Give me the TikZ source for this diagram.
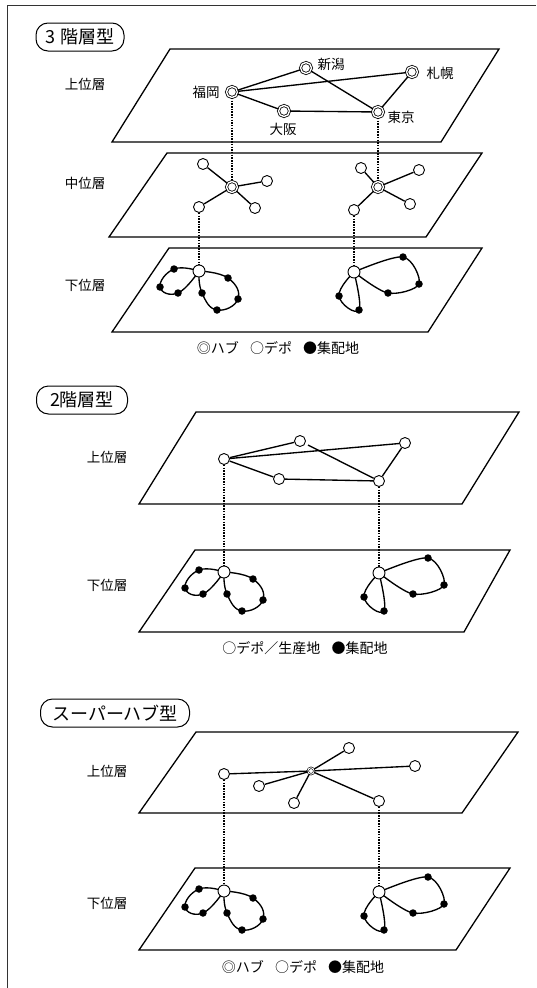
\documentclass[tikz,border=0pt]{standalone}
\usepackage{fontspec}
\setmainfont{Noto Sans CJK JP}
\pgfdeclarelayer{paper}
\pgfdeclarelayer{bg}
\pgfsetlayers{paper,bg,main}
\tikzset{
  plane/.style={line width=1.3pt, line join=miter},
  hub/.style={circle, draw, fill=white, line width=0.8pt, double, double distance=1.4pt, minimum size=11pt, inner sep=0pt},
  shub/.style={circle, draw, fill=white, line width=0.6pt, double, double distance=0.9pt, minimum size=6.5pt, inner sep=0pt},
  depot/.style={circle, draw, fill=white, line width=0.9pt, minimum size=11pt, inner sep=0pt},
  ddepot/.style={circle, draw, fill=white, line width=0.9pt, minimum size=12pt, inner sep=0pt},
  dot/.style={circle, fill=black, minimum size=7.5pt, inner sep=0pt},
  link/.style={line width=1.35pt},
  vlink/.style={line width=1.1pt, dash pattern=on 1.5pt off 1.2pt},
  lbl/.style={font=\fontsize{13.5}{15}\selectfont, inner sep=0pt},
  leg/.style={font=\fontsize{14}{16}\selectfont, inner sep=0pt},
  ttl/.style={draw, line width=1pt, rounded corners=12pt, font=\fontsize{18}{20}\selectfont, minimum height=28pt, inner xsep=5pt, inner ysep=0pt},
  frame/.style={line width=0.8pt, black!80}
}
\newcommand\lowerloops[3]{%
\begin{scope}[shift={(#2,#3)}]
\node[ddepot] (#1dl) at (0,0) {};
\node[dot] (#1a1) at (-25,-2) {};
\node[dot] (#1a2) at (-39,16) {};
\node[dot] (#1a3) at (-21,22) {};
\node[dot] (#1b1) at (29,7) {};
\node[dot] (#1b2) at (39,28) {};
\node[dot] (#1b3) at (18,39) {};
\node[dot] (#1b4) at (3,22) {};
\node[ddepot] (#1dr) at (155,1) {};
\node[dot] (#1c1) at (204,-14) {};
\node[dot] (#1c2) at (220,13) {};
\node[dot] (#1c3) at (189,22) {};
\node[dot] (#1e1) at (140,25) {};
\node[dot] (#1e2) at (160,39) {};
\end{scope}
\begin{pgfonlayer}{bg}
\draw[link] plot[smooth,tension=0.8] coordinates {(#1dl) (#1a1) (#1a2) (#1a3) (#1dl)};
\draw[link] plot[smooth,tension=0.8] coordinates {(#1dl) (#1b1) (#1b2) (#1b3) (#1b4) (#1dl)};
\draw[link] plot[smooth,tension=0.55] coordinates {(#1dr) (#1c1) (#1c2) (#1c3) (#1dr)};
\draw[link] plot[smooth,tension=0.8] coordinates {(#1dr) (#1e1) (#1e2) (#1dr)};
\end{pgfonlayer}}
\begin{document}
\begin{tikzpicture}[x=1pt,y=-1pt]
\useasboundingbox (0,0) rectangle (536,988);
\begin{pgfonlayer}{paper}
\fill[white] (0,0) rectangle (536,988);
\end{pgfonlayer}
% frame
\draw[frame] (536,5) -- (7,5) -- (7,988);

% planes
\begin{pgfonlayer}{bg}
\draw[plane] (170,49) -- (499,49) -- (441,142) -- (112,142) -- cycle;
\draw[plane] (167,153) -- (482,153) -- (426,237) -- (109,237) -- cycle;
\draw[plane] (169,248) -- (482,248) -- (428,332) -- (112,332) -- cycle;
\draw[plane] (196,412) -- (519,412) -- (462,504) -- (139,504) -- cycle;
\draw[plane] (195,550) -- (510,550) -- (464,632) -- (139,632) -- cycle;
\draw[plane] (196,732) -- (518,732) -- (462,813) -- (139,813) -- cycle;
\draw[plane] (195,868) -- (510,868) -- (456,950) -- (139,950) -- cycle;
\end{pgfonlayer}

%% ===== 3-tier =====
\node[ttl, minimum width=88pt] (t1) at (80,37) {3 階層型};
\node[lbl] (l1u) at (85,84) {上位層};
\node[lbl] (l1m) at (85,183) {中位層};
\node[lbl] (l1l) at (85,285) {下位層};

\node[hub] (F) at (232,92) {};
\node[hub] (N) at (306,68) {};
\node[hub] (S) at (412,72) {};
\node[hub] (O) at (284,111) {};
\node[hub] (T) at (378,112) {};
\node[lbl] (Fl) at (206,92) {福岡};
\node[lbl] (Nl) at (331,64) {新潟};
\node[lbl] (Sl) at (440,73) {札幌};
\node[lbl] (Ol) at (283,129) {大阪};
\node[lbl] (Tl) at (401,117) {東京};
\draw[link] (F) -- (N);
\draw[link] (F) -- (S);
\draw[link] (F) -- (O);
\draw[link] (N) -- (T);
\draw[link] (S) -- (T);
\draw[link] (O) -- (T);

% middle layer
\node[hub] (MH1) at (232,187) {};
\node[depot] (m1a) at (203,164) {};
\node[depot] (m1b) at (267,181) {};
\node[depot] (m1c) at (199,207) {};
\node[depot] (m1d) at (255,208) {};
\node[hub] (MH2) at (378,187) {};
\node[depot] (m2a) at (361,168) {};
\node[depot] (m2b) at (419,170) {};
\node[depot] (m2c) at (354,210) {};
\node[depot] (m2d) at (410,204) {};
\foreach \n in {m1a,m1b,m1c,m1d} \draw[link] (MH1) -- (\n);
\foreach \n in {m2a,m2b,m2c,m2d} \draw[link] (MH2) -- (\n);
\draw[vlink] (F) -- (MH1);
\draw[vlink] (T) -- (MH2);

\lowerloops{p}{199}{271}
\draw[vlink] (m1c) -- (pdl);
\draw[vlink] (m2c) -- (pdr);

\node[leg] (leg1) at (278,348) {◎ハブ\hspace{0.8em}○デポ\hspace{0.8em}●集配地};

%% ===== 2-tier =====
\node[ttl, minimum width=91pt] (t2) at (82,400) {2階層型};
\node[lbl] (l2u) at (107,457) {上位層};
\node[lbl] (l2l) at (107,585) {下位層};
\node[depot] (A) at (224,459) {};
\node[depot] (B) at (300,441) {};
\node[depot] (C) at (405,443) {};
\node[depot] (D) at (279,479) {};
\node[depot] (E) at (379,481) {};
\draw[link] (A) -- (B);
\draw[link] (A) -- (C);
\draw[link] (A) -- (D);
\draw[link] (D) -- (E);
\draw[link] (C) -- (E);
\draw[link, shorten <=3pt] (B) -- (E);

\lowerloops{q}{224}{572}
\draw[vlink] (A) -- (qdl);
\draw[vlink] (E) -- (qdr);

\node[leg] (leg2) at (305,648) {○デポ／生産地\hspace{0.8em}●集配地};

%% ===== super hub =====
\node[ttl, minimum width=149pt] (t3) at (115,713) {スーパーハブ型};
\node[lbl] (l3u) at (107,771) {上位層};
\node[lbl] (l3l) at (107,903) {下位層};
\node[shub] (H) at (311,771) {};
\node[depot] (P1) at (224,774) {};
\node[depot] (P2) at (349,748) {};
\node[depot] (P3) at (415,766) {};
\node[depot] (P4) at (259,786) {};
\node[depot] (P5) at (294,803) {};
\node[depot] (P6) at (379,801) {};
\foreach \n in {P1,P2,P3,P4,P5,P6} \draw[link] (H) -- (\n);

\lowerloops{r}{224}{891}
\draw[vlink] (P1) -- (rdl);
\draw[vlink] (P6) -- (rdr);

\node[leg] (leg3) at (303,967) {◎ハブ\hspace{0.8em}○デポ\hspace{0.8em}●集配地};
\end{tikzpicture}
\end{document}
